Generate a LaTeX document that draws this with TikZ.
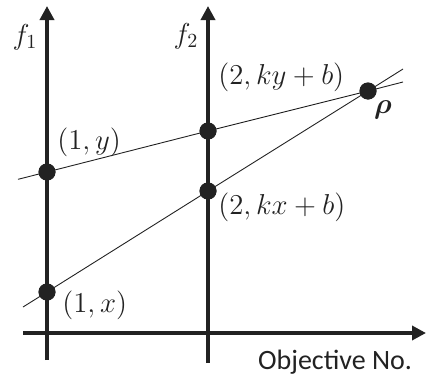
\documentclass[tikz,border=0pt]{standalone}
\usepackage{amsmath}
\usepackage{bm}
\usepackage{fontspec}
\usetikzlibrary{arrows.meta}
\newfontfamily\calib{Carlito}
\definecolor{ink}{HTML}{222222}
\tikzset{
  axis/.style={draw=ink, line width=2pt, -{Triangle[length=7pt,width=7pt]}},
  thin/.style={draw=ink, line width=0.45pt},
  dot/.style={circle, fill=ink, inner sep=0pt, minimum size=8.5pt},
  lab/.style={font=\fontsize{14.5}{17}\selectfont, text=ink, inner sep=0pt}
}
\begin{document}
\begin{tikzpicture}[x=0.5pt,y=-0.5pt]
\useasboundingbox (0,0) rectangle (428,380);
% axis end points
\coordinate (a1b) at (47,360);
\coordinate (a1t) at (47,6);
\coordinate (a2b) at (208,363);
\coordinate (a2t) at (208,6);
\coordinate (hl) at (23,333);
\coordinate (hr) at (426,333);
% line ends
\coordinate (u0) at (18,179.3);
\coordinate (u1) at (403,82);
\coordinate (l0) at (23,307);
\coordinate (l1) at (403,69);
% dots
\node[dot] (p1y) at (47,172) {};
\node[dot] (p1x) at (47,292) {};
\node[dot] (p2y) at (208,131) {};
\node[dot] (p2x) at (208,191) {};
\node[dot] (rho) at (368,91) {};
% thin lines
\draw[thin] (u0) -- (p1y.center) -- (p2y.center) -- (rho.center) -- (u1);
\draw[thin] (l0) -- (p1x.center) -- (p2x.center) -- (rho.center) -- (l1);
% axes
\draw[axis] (a1b) -- (a1t);
\draw[axis] (a2b) -- (a2t);
\draw[axis] (hl) -- (hr);
% redraw dots on top
\node[dot] at (p1y) {};
\node[dot] at (p1x) {};
\node[dot] at (p2y) {};
\node[dot] at (p2x) {};
\node[dot] at (rho) {};
% labels
\node[lab] (lf1) at (25,37) {$f_1$};
\node[lab] (lf2) at (186,36) {$f_2$};
\node[lab, anchor=west] (l1y) at (57,142) {$(1,y)$};
\node[lab, anchor=west] (l2y) at (218,77) {$(2,ky+b)$};
\node[lab] (lrho) at (383,110) {$\bm{\rho}$};
\node[lab, anchor=west] (l2x) at (218,207) {$(2,kx+b)$};
\node[lab, anchor=west] (l1x) at (62,305) {$(1,x)$};
\node[lab, font=\calib\fontsize{14}{16}\selectfont] (lobj) at (335,362) {Objective No.};
\end{tikzpicture}
\end{document}
